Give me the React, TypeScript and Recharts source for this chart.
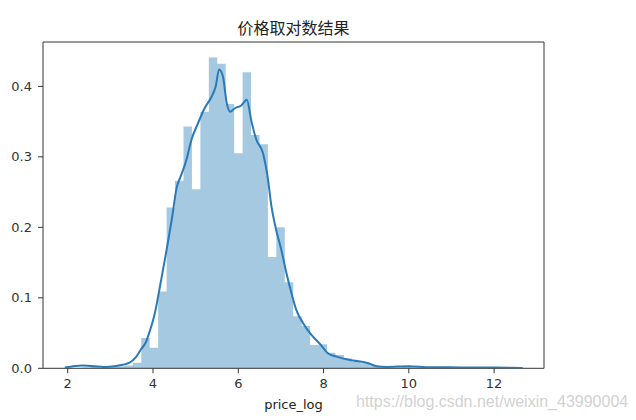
import { Area, ComposedChart, Line, ReferenceArea, XAxis, YAxis } from "recharts";

// histogram bin edges (50 bins) and densities
const binEdges = [
  2.339, 2.537, 2.735, 2.933, 3.131, 3.329, 3.527, 3.725, 3.923, 4.121, 4.319, 4.517, 4.715,
  4.913, 5.111, 5.309, 5.507, 5.705, 5.903, 6.101, 6.299, 6.497, 6.695, 6.893, 7.091, 7.289,
  7.487, 7.685, 7.883, 8.081, 8.279, 8.477, 8.675, 8.873, 9.071, 9.269, 9.467, 9.665, 9.863,
  10.061, 10.259, 10.457, 10.655, 10.853, 11.051, 11.249, 11.447, 11.645, 11.843, 12.041, 12.239,
];
const binDensity = [
  0.001, 0.002, 0.001, 0.002, 0.003, 0.004, 0.008, 0.043, 0.029, 0.109, 0.228, 0.266, 0.343,
  0.254, 0.364, 0.441, 0.432, 0.375, 0.305, 0.42, 0.331, 0.318, 0.158, 0.2, 0.122, 0.074,
  0.06, 0.033, 0.034, 0.022, 0.019, 0.014, 0.009, 0.007, 0.004, 0.002, 0.001, 0.001, 0.002,
  0.001, 0.001, 0.0005, 0.0005, 0.0005, 0.0005, 0.0005, 0.0005, 0.0005, 0.0005, 0.0005,
];

// kde curve
const kdeX = [
  1.93, 2.35, 2.9, 3.29, 3.45, 3.6, 3.72, 3.84, 3.92, 4.05, 4.16, 4.31, 4.45, 4.55, 4.66, 4.78,
  4.9, 5.05, 5.21, 5.37, 5.47, 5.55, 5.64, 5.73, 5.81, 5.92, 6.07, 6.2, 6.31, 6.42, 6.58, 6.68,
  6.78, 6.89, 7.01, 7.13, 7.25, 7.36, 7.52, 7.72, 7.91, 8.11, 8.3, 8.69, 9.01, 9.24, 9.48,
  9.99, 10.5, 10.96, 11.5, 11.99, 12.67,
];
const kdeY = [
  0.001, 0.004, 0.002, 0.005, 0.008, 0.016, 0.027, 0.038, 0.052, 0.08, 0.115, 0.165, 0.215,
  0.255, 0.274, 0.295, 0.324, 0.347, 0.369, 0.385, 0.4, 0.424, 0.414, 0.376, 0.364, 0.369,
  0.373, 0.381, 0.35, 0.325, 0.305, 0.275, 0.229, 0.196, 0.168, 0.135, 0.106, 0.083, 0.064,
  0.047, 0.035, 0.021, 0.0165, 0.011, 0.008, 0.003, 0.002, 0.003, 0.0015, 0.0015, 0.001,
  0.001, 0.0005,
];

const xTicks = [2, 4, 6, 8, 10, 12];
const yTicks = [0, 0.1, 0.2, 0.3, 0.4];
const xDomain = [1.42, 13.17];
const yDomain = [0, 0.463];

const histData = binEdges.map((x, i) => ({
  x,
  density: binDensity[Math.min(i, binDensity.length - 1)],
}));
const kdeData = kdeX.map((x, i) => ({ x, kde: kdeY[i] }));

const tickStyle = { fontFamily: "DejaVu Sans", fontSize: 13, fill: "#333" };

export default function App() {
  return (
    <div style={{ position: "absolute", left: 0, top: 0, width: 636, height: 420, background: "#fff" }}>
      <div
        style={{
          position: "absolute",
          left: 43,
          width: 501,
          top: 18,
          textAlign: "center",
          fontFamily: "Noto Sans CJK SC",
          fontSize: 16,
          lineHeight: "18px",
          color: "#222",
        }}
      >
        价格取对数结果
      </div>
      <ComposedChart width={636} height={420} margin={{ top: 42, right: 92, bottom: 0, left: 3 }}>
        <XAxis
          type="number"
          dataKey="x"
          domain={xDomain}
          ticks={xTicks}
          allowDataOverflow
          height={51.7}
          axisLine={false}
          tickLine={{ stroke: "#333" }}
          tickSize={5}
          tickMargin={5}
          tick={tickStyle}
          label={{
            value: "price_log",
            position: "insideBottom",
            offset: 11,
            style: { fontFamily: "DejaVu Sans", fontSize: 13, fill: "#222" },
          }}
        />
        <YAxis
          type="number"
          domain={yDomain}
          ticks={yTicks}
          allowDataOverflow
          width={40}
          axisLine={false}
          tickLine={{ stroke: "#333" }}
          tickSize={5}
          tickMargin={6}
          tick={tickStyle}
          tickFormatter={(v: number) => v.toFixed(1)}
        />
        <Area
          data={histData}
          dataKey="density"
          type="stepAfter"
          stroke="none"
          fill="#1f77b4"
          fillOpacity={0.4}
          isAnimationActive={false}
        />
        <Line
          data={kdeData}
          dataKey="kde"
          type="monotone"
          stroke="#2a7ab8"
          strokeWidth={2}
          dot={false}
          isAnimationActive={false}
        />
        <ReferenceArea
          x1={xDomain[0]}
          x2={xDomain[1]}
          y1={yDomain[0]}
          y2={yDomain[1]}
          fill="none"
          stroke="#333"
          strokeWidth={1}
          ifOverflow="visible"
        />
      </ComposedChart>
      <div
        style={{
          position: "absolute",
          left: 356,
          top: 393,
          fontFamily: "Liberation Sans",
          fontSize: 16,
          lineHeight: "18px",
          color: "#d2d2d2",
          whiteSpace: "nowrap",
        }}
      >
        https://blog.csdn.net/weixin_43990004
      </div>
    </div>
  );
}
